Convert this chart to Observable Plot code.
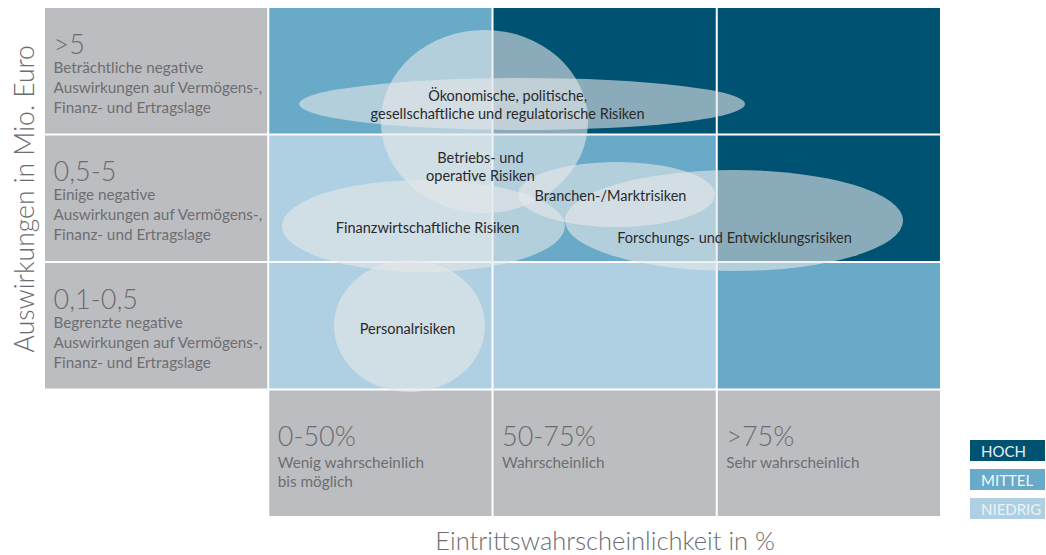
<!DOCTYPE html>
<html>
<head>
<meta charset="utf-8">
<script src="https://cdn.jsdelivr.net/npm/d3@7"></script>
<script src="https://cdn.jsdelivr.net/npm/@observablehq/plot@0.6"></script>
<style>
  html, body { margin: 0; padding: 0; background: #fff; }
  #wrap { position: relative; width: 1046px; height: 555px; font-family: Lato, "Open Sans", sans-serif; }
  #legend { position: absolute; left: 970px; top: 440px; }
  #legend div { width: 75px; height: 21px; margin-bottom: 8px; font-size: 15px; line-height: 22px;
    padding-left: 11px; box-sizing: border-box; white-space: nowrap; overflow: visible; }
</style>
</head>
<body>
<div id="wrap"></div>
<script>
// ---- data ----
const probabilityClasses = ["0-50%", "50-75%", ">75%"];
const probabilityLabels = ["Wenig wahrscheinlich\nbis möglich", "Wahrscheinlich", "Sehr wahrscheinlich"];
const impactClasses = [">5", "0,5-5", "0,1-0,5"];
const impactLabels = [
  "Beträchtliche negative\nAuswirkungen auf Vermögens-,\nFinanz- und Ertragslage",
  "Einige negative\nAuswirkungen auf Vermögens-,\nFinanz- und Ertragslage",
  "Begrenzte negative\nAuswirkungen auf Vermögens-,\nFinanz- und Ertragslage"
];
const riskLevels = ["HOCH", "MITTEL", "NIEDRIG"];
// rows: impact classes (top to bottom), columns: probability classes (left to right)
const cellLevels = [
  ["MITTEL", "HOCH", "HOCH"],
  ["NIEDRIG", "MITTEL", "HOCH"],
  ["NIEDRIG", "NIEDRIG", "MITTEL"]
];
const risks = [
  "Ökonomische, politische,\ngesellschaftliche und regulatorische Risiken",
  "Betriebs- und\noperative Risiken",
  "Finanzwirtschaftliche Risiken",
  "Branchen-/Marktrisiken",
  "Forschungs- und Entwicklungsrisiken",
  "Personalrisiken"
];
// positions in class units: probability 0..3 (left to right), impact 0..3 (bottom to top)
const riskProbability       = [1.132, 0.964, 0.692, 1.553, 2.077, 0.630];
const riskImpact            = [2.239, 2.102, 1.282, 1.529, 1.325, 0.498];
const riskProbabilitySpread = [0.994, 0.462, 0.631, 0.439, 0.754, 0.337];
const riskImpactSpread      = [0.204, 0.718, 0.361, 0.255, 0.396, 0.518];
const riskLabelProbability  = [1.065, 0.944, 0.708, 1.524, 2.077, 0.619];
const riskLabelImpact       = [2.243, 1.757, 1.282, 1.533, 1.204, 0.490];

// ---- tables built from the arrays ----
const cells = impactClasses.flatMap((imp, i) =>
  probabilityClasses.map((p, j) => ({ row: i, col: j, level: cellLevels[i][j] })));
const riskTable = risks.map((name, k) => ({
  name,
  x: riskProbability[k], y: riskImpact[k],
  rx: riskProbabilitySpread[k], ry: riskImpactSpread[k],
  lx: riskLabelProbability[k], ly: riskLabelImpact[k]
}));

const nRows = impactClasses.length;
const gray = "#bcbdc1";
const font = "Lato, 'Open Sans', sans-serif";

// custom mark: ellipses through the plot's x and y scales
function riskEllipses(index, scales) {
  const g = d3.create("svg:g");
  for (const d of riskTable) {
    const cx = scales.x(d.x), cy = scales.y(d.y);
    g.append("ellipse")
      .attr("cx", cx).attr("cy", cy)
      .attr("rx", Math.abs(scales.x(d.x + d.rx) - cx))
      .attr("ry", Math.abs(scales.y(d.y + d.ry) - cy))
      .attr("fill", "#e6e8ea")
      .attr("fill-opacity", 0.6);
  }
  return g.node();
}

const chart = Plot.plot({
  width: 1046,
  height: 555,
  marginLeft: 44,
  marginRight: 105,
  marginTop: 7,
  marginBottom: 38,
  style: { fontFamily: font, background: "#fff", overflow: "visible" },
  x: { domain: [-1, probabilityClasses.length], axis: null },
  y: { domain: [-1, nRows], axis: null },
  color: { domain: riskLevels, range: ["#005272", "#69aac8", "#aed0e2"] },
  marks: [
    // risk matrix cells
    Plot.rect(cells, {
      x1: d => d.col, x2: d => d.col + 1,
      y1: d => nRows - 1 - d.row, y2: d => nRows - d.row,
      fill: "level", inset: 1
    }),
    // impact label column
    Plot.rect(impactClasses, {
      x1: -1, x2: 0,
      y1: (d, i) => nRows - 1 - i, y2: (d, i) => nRows - i,
      fill: gray, inset: 1
    }),
    // probability label row
    Plot.rect(probabilityClasses, {
      x1: (d, j) => j, x2: (d, j) => j + 1,
      y1: -1, y2: 0,
      fill: gray, inset: 1
    }),
    // impact labels
    Plot.text(impactClasses, {
      frameAnchor: "left", y: (d, i) => nRows - i, text: d => d,
      textAnchor: "start", lineAnchor: "bottom", dx: 9, dy: 46,
      fontSize: 27, fontWeight: 300, fill: "#6b6c6f"
    }),
    Plot.text(impactLabels, {
      frameAnchor: "left", y: (d, i) => nRows - i, text: d => d,
      textAnchor: "start", lineAnchor: "top", dx: 9, dy: 62 - 0.71 * 15.3,
      fontSize: 15.3, lineHeight: 1.31, fill: "#6d6e71"
    }),
    // probability labels
    Plot.text(probabilityClasses, {
      x: (d, j) => j, y: 0, text: d => d,
      textAnchor: "start", lineAnchor: "bottom", dx: 9, dy: 56,
      fontSize: 27, fontWeight: 300, fill: "#6b6c6f"
    }),
    Plot.text(probabilityLabels, {
      x: (d, j) => j, y: 0, text: d => d,
      textAnchor: "start", lineAnchor: "top", dx: 9, dy: 75 - 0.71 * 15.3,
      fontSize: 15.3, lineHeight: 1.27, fill: "#6d6e71"
    }),
    // risk ellipses
    riskEllipses,
    // risk labels
    Plot.text(riskTable, {
      x: "lx", y: "ly", text: "name",
      fontSize: 14.5, lineHeight: 1.3, fill: "#2a2a2c"
    }),
    // axis titles
    Plot.text(["Auswirkungen in Mio. Euro"], {
      frameAnchor: "left", y: nRows / 2, text: d => d,
      rotate: -90, textAnchor: "middle", lineAnchor: "bottom", dx: -11,
      fontSize: 26.5, fontWeight: 300, fill: "#6b6c6f"
    }),
    Plot.text(["Eintrittswahrscheinlichkeit in %"], {
      frameAnchor: "bottom", x: probabilityClasses.length / 2, text: d => d,
      textAnchor: "middle", lineAnchor: "bottom", dy: 32,
      fontSize: 25.5, fontWeight: 300, fill: "#6b6c6f"
    })
  ]
});

const wrap = document.getElementById("wrap");
wrap.appendChild(chart);

// legend (colors from the plot's own color scale)
const colorScale = chart.scale("color");
const legend = document.createElement("div");
legend.id = "legend";
const legendText = ["#e6eef3", "#f2f7fa", "#eaf3f8"];
riskLevels.forEach((lvl, i) => {
  const item = document.createElement("div");
  item.textContent = lvl;
  item.style.background = colorScale.apply(lvl);
  item.style.color = legendText[i];
  legend.appendChild(item);
});
wrap.appendChild(legend);
</script>
</body>
</html>
